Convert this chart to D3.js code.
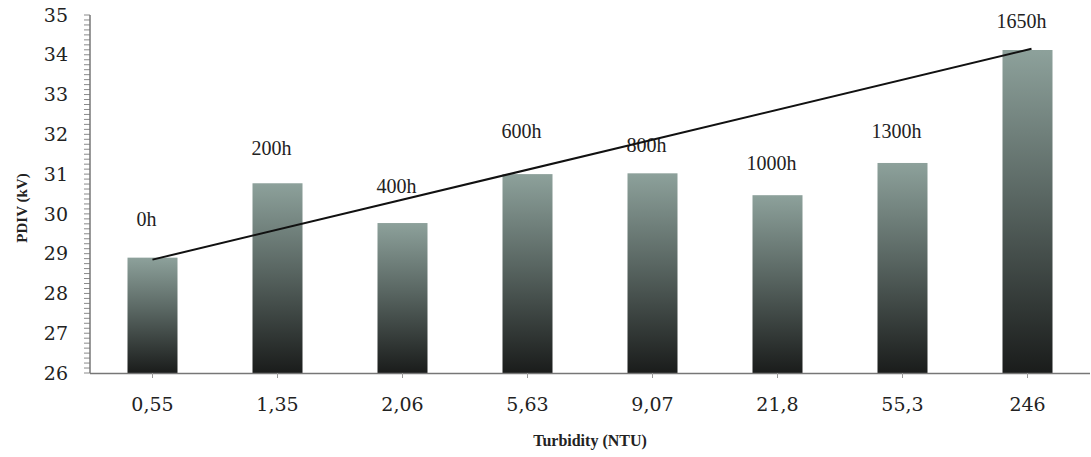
<!DOCTYPE html>
<html>
<head>
<meta charset="utf-8">
<script src="https://cdn.jsdelivr.net/npm/d3@7/dist/d3.min.js"></script>
<style>
  html, body { margin: 0; padding: 0; background: #fff; }
  svg { display: block; }
  .serif { font-family: "Liberation Serif", "DejaVu Serif", serif; }
  .dserif { font-family: "DejaVu Serif", "Liberation Serif", serif; }
</style>
</head>
<body>
<svg id="chart" width="1091" height="457"></svg>
<script>
// ---- data ----
const categories = ["0,55", "1,35", "2,06", "5,63", "9,07", "21,8", "55,3", "246"];
const pdiv = [28.9, 30.77, 29.77, 31.0, 31.02, 30.47, 31.28, 34.12];
const hours = ["0h", "200h", "400h", "600h", "800h", "1000h", "1300h", "1650h"];
const trendStart = 28.85;
const trendEnd = 34.15;
const yTicks = [26, 27, 28, 29, 30, 31, 32, 33, 34, 35];

// ---- layout ----
const svg = d3.select("#chart");
const mLeft = 90, mRight = 1090, mTop = 15, mBottom = 373;
const labelOffsets = [32, 28, 30, 36, 21, 25, 25, 22];

const x = d3.scaleBand().domain(categories).range([mLeft, mRight]).paddingInner(0.6).paddingOuter(0.3);
const y = d3.scaleLinear().domain([26, 35]).range([mBottom, mTop]);

// gradient
const defs = svg.append("defs");
const grad = defs.append("linearGradient").attr("id", "barGrad")
  .attr("x1", 0).attr("y1", 0).attr("x2", 0).attr("y2", 1);
grad.append("stop").attr("offset", "0%").attr("stop-color", "#8da19b");
grad.append("stop").attr("offset", "45%").attr("stop-color", "#5a6763");
grad.append("stop").attr("offset", "100%").attr("stop-color", "#1a1c1b");

// bars
svg.append("g").selectAll("rect").data(categories).join("rect")
  .attr("x", d => x(d))
  .attr("y", (d, i) => y(pdiv[i]))
  .attr("width", x.bandwidth())
  .attr("height", (d, i) => y(26) - y(pdiv[i]))
  .attr("fill", "url(#barGrad)");

// y axis
const yAxis = svg.append("g").attr("transform", `translate(${mLeft},0)`);
const minor = d3.range(26, 35.0001, 0.125);
yAxis.selectAll("line.minor").data(minor).join("line")
  .attr("class", "minor")
  .attr("x1", -6).attr("x2", 0)
  .attr("y1", d => y(d)).attr("y2", d => y(d))
  .attr("stroke", "#8a8a8a").attr("stroke-width", 1);
yAxis.append("line").attr("x1", 0).attr("x2", 0).attr("y1", y(35)).attr("y2", y(26))
  .attr("stroke", "#777").attr("stroke-width", 1.5);
yAxis.selectAll("text.lbl").data(yTicks).join("text")
  .attr("class", "lbl dserif")
  .attr("x", -22).attr("y", d => y(d)).attr("dy", "0.35em")
  .attr("text-anchor", "end")
  .attr("font-size", 19).attr("fill", "#222")
  .text(d => d);

// x axis
const xAxis = svg.append("g").attr("transform", `translate(0,${mBottom})`)
  .call(d3.axisBottom(x).tickSize(5).tickPadding(20).tickSizeOuter(0));
xAxis.attr("font-family", null);
xAxis.select(".domain").attr("stroke", "#777").attr("stroke-width", 1.5)
  .attr("d", `M${mLeft},0.5H${mRight}`);
xAxis.selectAll(".tick line").attr("stroke", "#999");
xAxis.selectAll(".tick text")
  .attr("class", "dserif")
  .attr("font-size", 19).attr("fill", "#222");

// hour labels
svg.append("g").selectAll("text").data(hours).join("text")
  .attr("class", "serif")
  .attr("x", (d, i) => x(categories[i]) + x.bandwidth() / 2 - 6)
  .attr("y", (d, i) => y(pdiv[i]) - labelOffsets[i])
  .attr("text-anchor", "middle")
  .attr("font-size", 20).attr("fill", "#222")
  .text(d => d);

// trend line
const xc = c => x(c) + x.bandwidth() / 2;
svg.append("line")
  .attr("x1", xc(categories[0])).attr("y1", y(trendStart))
  .attr("x2", xc(categories[categories.length - 1]) + 4).attr("y2", y(trendEnd))
  .attr("stroke", "#111").attr("stroke-width", 2);

// axis titles
svg.append("text")
  .attr("class", "serif")
  .attr("transform", `translate(27,${(mTop + mBottom) / 2 + 14}) rotate(-90)`)
  .attr("text-anchor", "middle")
  .attr("font-weight", "bold").attr("font-size", 15).attr("fill", "#222")
  .text("PDIV (kV)");
svg.append("text")
  .attr("class", "serif")
  .attr("x", 590).attr("y", 446)
  .attr("text-anchor", "middle")
  .attr("font-weight", "bold").attr("font-size", 16).attr("fill", "#222")
  .text("Turbidity (NTU)");
</script>
</body>
</html>
